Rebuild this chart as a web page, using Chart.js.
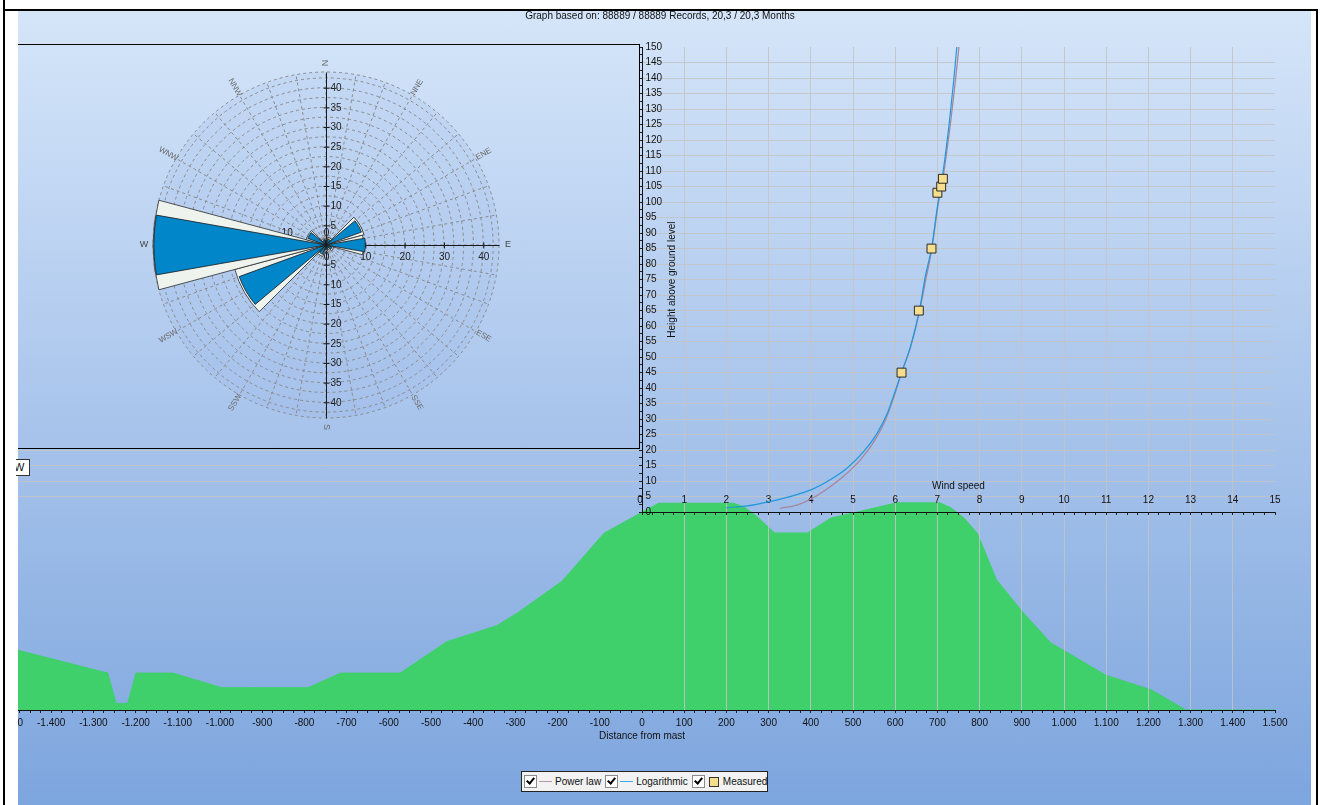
<!DOCTYPE html>
<html>
<head>
<meta charset="utf-8">
<title>Wind profile and terrain section</title>
<script src="https://cdn.jsdelivr.net/npm/chart.js@4.4.1/dist/chart.umd.min.js"></script>
<style>
  html,body{margin:0;padding:0;background:#fff;}
  body{width:1320px;height:805px;position:relative;overflow:hidden;font-family:"Liberation Sans",Arial,sans-serif;color:#111;}
  .rule{position:absolute;background:#000;}
  #panel{position:absolute;left:18px;top:11px;width:1293px;height:794px;overflow:hidden;background:linear-gradient(#d5e5f9,#7da5de);}
  #panel canvas{position:absolute;left:-18px;top:-11px;}
  #heading{position:absolute;left:0;top:10px;width:1320px;text-align:center;font-size:10px;line-height:12px;}
  #rose{position:absolute;left:18px;top:44px;width:621px;height:403px;border-top:1px solid #000;border-right:1px solid #000;border-bottom:1px solid #000;background:linear-gradient(#d1e3f8,#a6c2eb);}
  #rose canvas{position:absolute;left:0;top:0;}
  #wbox{position:absolute;left:16px;top:459px;width:13px;height:15px;background:#fff;border:1px solid #333;border-left:none;overflow:hidden;font-size:11px;line-height:15px;}
  #wbox span{position:absolute;left:-2px;top:0;}
  #legend{position:absolute;left:521px;top:771px;width:243px;height:19px;padding-left:2px;border:1px solid #222;background:#f2f2f2;font-size:10px;display:flex;align-items:center;}
  #legend .cb{width:11px;height:11px;border:1px solid #8c8c8c;background:#fff;position:relative;flex:none;}
  #legend .cb::after{content:"";position:absolute;left:3px;top:0px;width:3px;height:6px;border:solid #000;border-width:0 2px 2px 0;transform:rotate(40deg);}
  #legend .ln{width:13px;height:1px;margin:0 3px 0 2px;flex:none;}
  #legend .sq{width:8px;height:8px;border:1px solid #333;background:#f6de8d;margin:0 4px 0 4px;flex:none;}
  #legend .tx{margin-right:4px;white-space:nowrap;}
</style>
</head>
<body>
<div class="rule" style="left:3px;top:0;width:2px;height:805px"></div>
<div class="rule" style="left:3px;top:9px;width:1315px;height:2px"></div>
<div class="rule" style="left:1316px;top:9px;width:2px;height:796px"></div>

<div id="panel">
  <canvas id="terrain" width="1320" height="805"></canvas>
  <canvas id="profile" width="1320" height="805"></canvas>
</div>

<div id="rose"><canvas id="roseChart" width="621" height="403"></canvas></div>
<div id="wbox"><span>W</span></div>
<div id="heading">Graph based on: 88889 / 88889 Records, 20,3 / 20,3 Months</div>

<div id="legend">
  <span class="cb"></span><span class="ln" style="background:#b994ad"></span><span class="tx">Power law</span>
  <span class="cb"></span><span class="ln" style="background:#38aee8"></span><span class="tx">Logarithmic</span>
  <span class="cb"></span><span class="sq"></span><span class="tx">Measured</span>
</div>

<script>
// --- terrain section through the mast (distance m, elevation m relative to mast foot)
const terrainDist = [-1500, -1266, -1246, -1219, -1199, -1111, -996, -791, -714, -573, -463, -344, -294, -189, -90,
  0, 40, 216, 242, 273, 314, 392, 448, 500, 603, 706, 732, 763, 794, 809, 840, 902, 969, 1026, 1098, 1206, 1289, 1500];
const terrainElev = [-43.8, -51.9, -61.7, -61.7, -51.9, -51.9, -56.6, -56.6, -51.9, -51.9, -41.8, -36.6, -32.4, -22.2, -6.8,
  0, 2.9, 2.9, 1.7, -1.5, -6.7, -6.7, -1.9, -0.3, 3.0, 3.0, 1.4, -1.9, -6.7, -11.5, -21.8, -32.2, -42.2, -46.7, -52.5, -57.3, -63.8, -63.8];

// --- vertical wind profile (speed m/s, height m)
const logSpeed  = [2.0, 2.5, 3.0, 3.5, 4.0, 4.45, 4.85, 5.25, 5.57, 5.81, 6.01, 6.15, 6.36, 6.57, 6.72, 6.86, 7.0, 7.13, 7.28, 7.38, 7.46];
const logHeight = [1.4, 2.0, 3.3, 5.0, 7.2, 10.4, 14.1, 19.5, 25.4, 31.8, 39.4, 45, 53.3, 64.8, 76.5, 85, 98.5, 109.3, 125.4, 138.3, 150];
const powerSpeed  = [3.27, 3.67, 4.03, 4.40, 4.76, 5.17, 5.52, 5.77, 5.97, 6.15, 6.37, 6.58, 6.74, 6.87, 7.01, 7.15, 7.31, 7.42, 7.51];
const powerHeight = [1.2, 2.3, 4.4, 7.6, 11.4, 16.8, 23.2, 29.7, 37.2, 45, 53.5, 65, 76, 85, 98.5, 109.3, 125.4, 138.3, 150];
const measSpeed  = [6.15, 6.56, 6.86, 7.00, 7.09, 7.13];
const measHeight = [45, 65, 85, 103, 105, 107.5];
const speedTicks  = [0, 1, 2, 3, 4, 5, 6, 7, 8, 9, 10, 11, 12, 13, 14, 15];
const heightTicks = [0, 5, 10, 15, 20, 25, 30, 35, 40, 45, 50, 55, 60, 65, 70, 75, 80, 85, 90, 95, 100,
  105, 110, 115, 120, 125, 130, 135, 140, 145, 150];

// --- wind rose, 12 sectors
const roseDirs  = ['N', 'NNE', 'ENE', 'E', 'ESE', 'SSE', 'S', 'SSW', 'WSW', 'W', 'WNW', 'NNW'];
const roseWhite = [1.5, 2.0, 10.0, 9.6, 2.0, 1.3, 1.5, 3.0, 24.0, 44.0, 5.2, 1.6];
const roseBlue  = [1.2, 1.6, 9.6, 10.0, 1.6, 1.0, 1.2, 2.5, 23.5, 43.8, 4.9, 1.3];
const roseNS = [5, 10, 15, 20, 25, 30, 35, 40];
const roseEW = [10, 20, 30, 40];

const Y_MIN = -63.8, Y_MAX = 150;
const GRID = 'rgba(196,196,196,0.85)';
const FONT = '"Liberation Sans", Arial, sans-serif';
const fmt = new Intl.NumberFormat('de-DE');
const pts = (xs, ys) => xs.map((x, i) => ({x, y: ys[i]}));

Chart.defaults.font.family = FONT;
Chart.defaults.font.size = 10;
Chart.defaults.color = '#111';

// terrain + distance axis (bottom layer)
new Chart(document.getElementById('terrain'), {
  type: 'line',
  data: { datasets: [{
    data: pts(terrainDist, terrainElev),
    fill: 'start', backgroundColor: '#3fcf6b', borderColor: '#3fcf6b', borderWidth: 1,
    pointRadius: 0, tension: 0
  }]},
  options: {
    responsive: false, animation: false, events: [],
    layout: { padding: { left: 9, right: 45, top: 47, bottom: 59 } },
    plugins: { legend: { display: false }, tooltip: { enabled: false } },
    scales: {
      x: {
        type: 'linear', min: -1500, max: 1500, position: 'bottom',
        grid: { drawOnChartArea: false, tickLength: 3, color: '#222' },
        border: { color: '#111', width: 1 },
        ticks: { stepSize: 25, autoSkip: false, maxRotation: 0, padding: 4,
          callback: v => (v % 100 === 0 ? fmt.format(v) : '') },
        title: { display: true, text: 'Distance from mast', padding: { top: 0, bottom: 4 } },
        afterFit(s) { s.height = 36; s.paddingLeft = 0; s.paddingRight = 0; }
      },
      y: { display: false, min: Y_MIN, max: Y_MAX }
    }
  }
});

// axis lines, labels and titles for the profile (axes cross at 0/0)
const profileAxes = {
  id: 'profileAxes',
  beforeDatasetsDraw(chart) {
    const xs = chart.scales.x, ys = chart.scales.y, ctx = chart.ctx;
    const x0 = Math.round(xs.getPixelForValue(0)) + 0.5;
    const y0 = Math.round(ys.getPixelForValue(0)) + 0.5;
    ctx.save();
    ctx.strokeStyle = '#111';
    ctx.lineWidth = 1;
    ctx.beginPath();
    ctx.moveTo(x0, y0); ctx.lineTo(xs.getPixelForValue(15), y0);
    ctx.moveTo(x0, y0); ctx.lineTo(x0, ys.getPixelForValue(150));
    ctx.stroke();
    ctx.font = '10px ' + FONT;
    ctx.fillStyle = '#111';
    ctx.textAlign = 'center';
    ctx.textBaseline = 'middle';
    speedTicks.forEach(v => ctx.fillText(String(v), xs.getPixelForValue(v) - (v === 0 ? 2 : 0), y0 - 12));
    ctx.fillText('Wind speed', xs.getPixelForValue(7.5), y0 - 26);
    ctx.textAlign = 'left';
    heightTicks.forEach(v => ctx.fillText(String(v), x0 + 3, ys.getPixelForValue(v)));
    ctx.translate(x0 + 30, ys.getPixelForValue(75));
    ctx.rotate(-Math.PI / 2);
    ctx.textAlign = 'center';
    ctx.fillText('Height above ground level', 0, 0);
    ctx.restore();
  }
};

const isInt = v => Math.abs(v - Math.round(v)) < 1e-6;

new Chart(document.getElementById('profile'), {
  type: 'line',
  data: { datasets: [
    { label: 'Measured', data: pts(measSpeed, measHeight), showLine: false,
      pointStyle: 'rect', pointRadius: 6.3, pointBackgroundColor: '#f6de8d', pointBorderColor: '#2a2a2a', pointBorderWidth: 1 },
    { label: 'Logarithmic', data: pts(logSpeed, logHeight), borderColor: '#1f98dc', borderWidth: 1.2,
      pointRadius: 0, cubicInterpolationMode: 'monotone', fill: false },
    { label: 'Power law', data: pts(powerSpeed, powerHeight), borderColor: '#a8869e', borderWidth: 1.3,
      pointRadius: 0, cubicInterpolationMode: 'monotone', fill: false }
  ]},
  options: {
    responsive: false, animation: false, events: [],
    layout: { padding: { left: 9, right: 45, top: 47, bottom: 95 } },
    plugins: { legend: { display: false }, tooltip: { enabled: false } },
    scales: {
      x: {
        type: 'linear', min: -15, max: 15, position: { y: 0 },
        grid: { tickLength: 3,
          color: c => (c.tick && c.tick.value > 0 && c.tick.value < 15 && isInt(c.tick.value)) ? GRID : 'transparent',
          tickColor: c => (c.tick && c.tick.value >= 0) ? '#222' : 'transparent' },
        border: { display: false },
        ticks: { display: false, stepSize: 0.25 }
      },
      y: {
        type: 'linear', min: Y_MIN, max: Y_MAX, position: { x: 0 },
        grid: { tickLength: 3,
          color: c => (c.tick && c.tick.value > 0 && c.tick.value < 150 && isInt(c.tick.value / 5)) ? GRID : 'transparent',
          tickColor: c => (c.tick && c.tick.value >= 0) ? '#222' : 'transparent' },
        border: { display: false },
        ticks: { display: false, stepSize: 2.5 }
      }
    }
  },
  plugins: [profileAxes]
});

// wind rose: wide white sectors (30 deg) under narrow blue ones (20 deg)
function wideSectors(vals) {
  const data = [vals[0]], angle = [15];
  for (let i = 1; i < vals.length; i++) { data.push(vals[i]); angle.push(30); }
  data.push(vals[0]); angle.push(15);
  return {data, angle};
}
function narrowSectors(vals) {
  const data = [vals[0]], angle = [10];
  for (let i = 1; i < vals.length; i++) { data.push(0, vals[i]); angle.push(10, 20); }
  data.push(0, vals[0]); angle.push(10, 10);
  return {data, angle};
}
const white = wideSectors(roseWhite);
const blue = narrowSectors(roseBlue);

const roseAxes = {
  id: 'roseAxes',
  beforeDatasetsDraw(chart) {
    const r = chart.scales.r, ctx = chart.ctx;
    const cx = r.xCenter + 0.5, cy = r.yCenter + 0.5;
    const R = r.getDistanceFromCenterForValue(r.max);
    const d = v => r.getDistanceFromCenterForValue(v);
    ctx.save();
    ctx.strokeStyle = '#1a1a1a';
    ctx.lineWidth = 1;
    ctx.beginPath();
    ctx.moveTo(cx, cy - R); ctx.lineTo(cx, cy + R);
    ctx.moveTo(cx - R, cy); ctx.lineTo(cx + R, cy);
    roseNS.forEach(v => {
      ctx.moveTo(cx - 3, cy - d(v)); ctx.lineTo(cx + 3, cy - d(v));
      ctx.moveTo(cx - 3, cy + d(v)); ctx.lineTo(cx + 3, cy + d(v));
    });
    roseEW.forEach(v => { ctx.moveTo(cx + d(v), cy - 3); ctx.lineTo(cx + d(v), cy + 3); });
    ctx.stroke();

    ctx.font = '10px ' + FONT;
    ctx.fillStyle = '#222';
    ctx.textBaseline = 'middle';
    ctx.textAlign = 'left';
    roseNS.forEach(v => {
      ctx.fillText(String(v), cx + 4, cy - d(v));
      ctx.fillText(String(v), cx + 4, cy + d(v));
    });
    ctx.textAlign = 'center';
    ctx.fillText('0', cx, cy - 12);
    ctx.fillText('0', cx, cy + 12);
    roseEW.forEach(v => {
      ctx.fillText(String(v), cx + d(v), cy + 12);
      ctx.fillText(String(v), cx - d(v), cy - 12);
    });

    // compass names, turned along the radius
    roseDirs.forEach((name, i) => {
      const a = i * 30;
      const p = r.getPointPosition(i * 3, R + 9);
      const rot = a <= 180 ? a - 90 : a - 270;
      ctx.save();
      ctx.font = (a % 90 === 0 ? '9px ' : '8px ') + FONT;
      ctx.fillStyle = a === 90 || a === 270 ? '#444' : '#6a6a6a';
      ctx.translate(p.x, p.y);
      ctx.rotate(rot * Math.PI / 180);
      ctx.fillText(name, 0, 0);
      ctx.restore();
    });
    ctx.restore();
  }
};

new Chart(document.getElementById('roseChart'), {
  type: 'polarArea',
  data: {
    labels: Array.from({length: 36}, (_, i) => String(i * 10)),
    datasets: [
      { data: blue.data, angle: blue.angle, backgroundColor: '#0086c9', borderColor: '#1a1a1a',
        borderWidth: c => (c.raw ? 0.8 : 0) },
      { data: white.data, angle: white.angle, backgroundColor: '#eef3ee', borderColor: '#2a2a2a',
        borderWidth: c => (c.raw ? 0.8 : 0) }
    ]
  },
  options: {
    responsive: false, animation: false, events: [],
    layout: { padding: { left: 135, right: 140, top: 27, bottom: 30 } },
    plugins: { legend: { display: false }, tooltip: { enabled: false } },
    scales: {
      r: {
        min: 0, max: 44, startAngle: 0,
        backgroundColor: 'rgba(140,175,230,0.16)',
        ticks: { display: false, stepSize: 2.5 },
        grid: { circular: true, color: '#8a8a8a', lineWidth: 1 },
        border: { dash: [3, 3] },
        angleLines: { display: true, color: '#8a8a8a', lineWidth: 1, borderDash: [3, 3] },
        pointLabels: { display: false }
      }
    }
  },
  plugins: [roseAxes]
});
</script>
</body>
</html>
